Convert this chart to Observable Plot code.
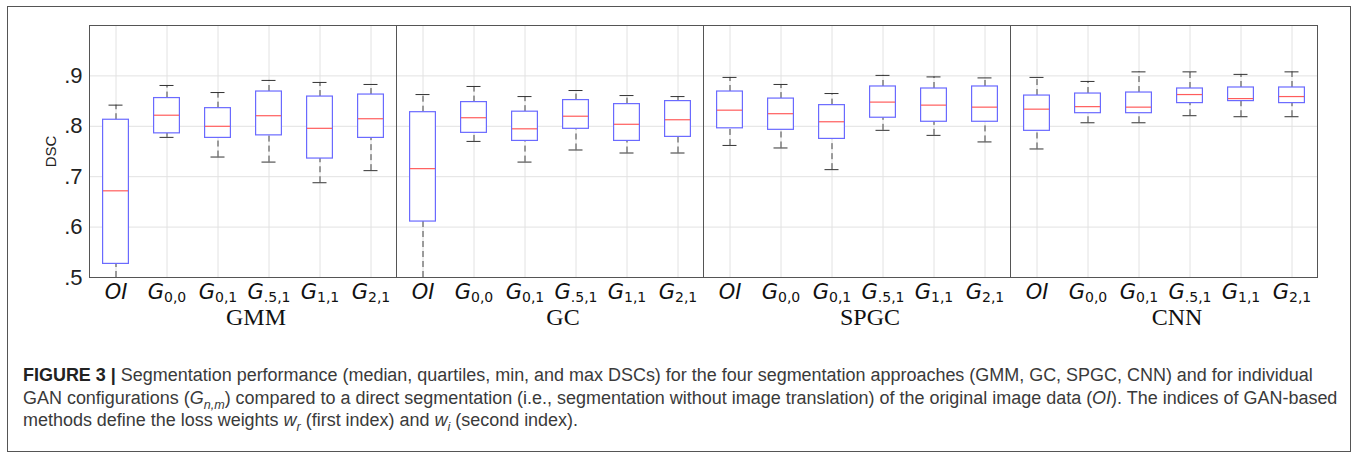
<!DOCTYPE html>
<html>
<head>
<meta charset="utf-8">
<script src="https://cdn.jsdelivr.net/npm/d3@7"></script>
<script src="https://cdn.jsdelivr.net/npm/@observablehq/plot@0.6"></script>
<style>
  html, body { margin: 0; padding: 0; background: #fff; }
  #page { position: relative; width: 1357px; height: 455px; overflow: hidden; }
  #border { position: absolute; left: 7px; top: 6px; width: 1344px; height: 446px; border: 1.5px solid #555; box-sizing: border-box; }
  #chart { position: absolute; left: 0; top: 0; }
  #caption { position: absolute; left: 23px; top: 364px; transform-origin: 0 0; font-family: "Liberation Sans Narrow", "Liberation Sans", Arial, sans-serif; font-size: 18px; color: #3a3a3a; }
  #caption div { white-space: nowrap; height: 22.5px; line-height: 22.5px; }
  #caption b { color: #222; }
  #caption sub { font-size: 0.7em; line-height: 0; }
</style>
</head>
<body>
<div id="page">
  <div id="border"></div>
  <div id="chart"></div>
  <div id="caption">
    <div><b>FIGURE 3 |</b> Segmentation performance (median, quartiles, min, and max DSCs) for the four segmentation approaches (GMM, GC, SPGC, CNN) and for individual</div>
    <div id="cap2">GAN configurations (<i>G</i><sub><i>n,m</i></sub>) compared to a direct segmentation (i.e., segmentation without image translation) of the original image data (<i>OI</i>). The indices of GAN-based</div>
    <div>methods define the loss weights <i>w</i><sub><i>r</i></sub> (first index) and <i>w</i><sub><i>i</i></sub> (second index).</div>
  </div>
</div>
<script>
// Segmentation approaches (facets) and configurations (categories)
const methods = ["GMM", "GC", "SPGC", "CNN"];
const configs = ["OI", "G0,0", "G0,1", "G.5,1", "G1,1", "G2,1"];
const yTicks = [0.5, 0.6, 0.7, 0.8, 0.9];

// DSC statistics, ordered method by method (GMM, GC, SPGC, CNN), configs in order above
const minDSC = [
  0.500, 0.778, 0.739, 0.729, 0.688, 0.712,   // GMM
  0.500, 0.770, 0.729, 0.753, 0.747, 0.747,   // GC
  0.762, 0.757, 0.714, 0.792, 0.782, 0.769,   // SPGC
  0.755, 0.807, 0.807, 0.821, 0.819, 0.819    // CNN
];
const q1DSC = [
  0.527, 0.786, 0.777, 0.782, 0.736, 0.777,
  0.611, 0.787, 0.771, 0.795, 0.771, 0.779,
  0.796, 0.793, 0.775, 0.817, 0.809, 0.809,
  0.791, 0.826, 0.826, 0.846, 0.850, 0.846
];
const medianDSC = [
  0.672, 0.822, 0.800, 0.821, 0.796, 0.815,
  0.716, 0.817, 0.795, 0.820, 0.804, 0.813,
  0.832, 0.825, 0.809, 0.848, 0.842, 0.838,
  0.834, 0.839, 0.838, 0.863, 0.855, 0.859
];
const q3DSC = [
  0.813, 0.856, 0.836, 0.869, 0.859, 0.863,
  0.828, 0.848, 0.829, 0.852, 0.844, 0.850,
  0.869, 0.855, 0.842, 0.879, 0.875, 0.879,
  0.861, 0.865, 0.867, 0.875, 0.877, 0.877
];
const maxDSC = [
  0.842, 0.881, 0.867, 0.891, 0.887, 0.883,
  0.863, 0.879, 0.859, 0.871, 0.861, 0.859,
  0.897, 0.883, 0.865, 0.901, 0.898, 0.896,
  0.897, 0.889, 0.908, 0.908, 0.903, 0.908
];

const rows = methods.flatMap((m, i) => configs.map((c, j) => {
  const k = i * configs.length + j;
  return {method: m, config: c, min: minDSC[k], q1: q1DSC[k], median: medianDSC[k], q3: q3DSC[k], max: maxDSC[k]};
}));

const boxColor = "#6a6aff";
const medColor = "#ff5c5c";
const whiskColor = "#444";

const chart = Plot.plot({
  width: 1357,
  height: 340,
  marginLeft: 88,
  marginRight: 40,
  marginTop: 25,
  marginBottom: 63,
  style: {background: "transparent"},
  fx: {domain: methods, padding: 0},
  x: {domain: configs, padding: 0},
  y: {domain: [0.5, 1.0]},
  marks: [
    Plot.gridX({stroke: "#e2e2e2", strokeOpacity: 1}),
    Plot.gridY({ticks: [0.6, 0.7, 0.8, 0.9], stroke: "#e2e2e2", strokeOpacity: 1}),
    // whiskers (dashed)
    Plot.ruleX(rows, {fx: "method", x: "config", y1: "q3", y2: "max", stroke: whiskColor, strokeDasharray: "6,4", strokeWidth: 1}),
    Plot.ruleX(rows, {fx: "method", x: "config", y1: "min", y2: "q1", stroke: whiskColor, strokeDasharray: "6,4", strokeWidth: 1}),
    // caps
    Plot.tickY(rows, {fx: "method", x: "config", y: "max", stroke: "#333", insetLeft: 18.5, insetRight: 18.5}),
    Plot.tickY(rows, {fx: "method", x: "config", y: "min", stroke: "#333", insetLeft: 18.5, insetRight: 18.5}),
    // boxes
    Plot.barY(rows, {fx: "method", x: "config", y1: "q1", y2: "q3", fill: "white", stroke: boxColor, strokeWidth: 1.2, insetLeft: 12.6, insetRight: 12.6}),
    // medians
    Plot.tickY(rows, {fx: "method", x: "config", y: "median", stroke: medColor, strokeWidth: 1.2, insetLeft: 13, insetRight: 13}),
    Plot.frame({stroke: "#555", strokeWidth: 1}),
    Plot.axisY({
      ticks: yTicks,
      tickFormat: d => d.toFixed(1).replace(/^0/, ""),
      tickSize: 0,
      tickPadding: 7,
      fontSize: 22,
      fontFamily: "Liberation Sans, Arial, sans-serif",
      label: "DSC",
      labelAnchor: "center",
      labelOffset: 44
    }),
    Plot.axisX({
      tickSize: 0,
      tickPadding: 7,
      fontSize: 21,
      fontFamily: "DejaVu Sans, sans-serif",
      tickFormat: d => d,
      label: null
    }),
    Plot.axisFx({
      anchor: "bottom",
      tickSize: 0,
      tickPadding: 30,
      dx: 13,
      fontSize: 24,
      fontFamily: "Liberation Serif, Times New Roman, serif",
      label: null
    })
  ]
});
document.getElementById("chart").appendChild(chart);

// y-axis label: plain "DSC" without arrow
d3.select(chart).selectAll('g[aria-label="y-axis label"] text')
  .text("DSC")
  .style("font-size", "15px").style("font-family", "Liberation Sans, Arial, sans-serif").attr("fill", "#222");
d3.select(chart).selectAll('g[aria-label="y-axis tick label"] text').attr("fill", "#222");
d3.select(chart).selectAll('g[aria-label="fx-axis tick label"] text').attr("fill", "#111");

// italic configuration labels with upright subscripts
d3.select(chart).selectAll('g[aria-label="x-axis tick label"] text').each(function() {
  const t = d3.select(this);
  const s = t.text();
  t.text(null).attr("fill", "#111");
  if (s.startsWith("G")) {
    t.append("tspan").attr("font-style", "italic").text("G");
    t.append("tspan").attr("font-size", 14).attr("dy", 3).text(s.slice(1));
  } else {
    t.append("tspan").attr("font-style", "italic").text(s);
  }
});

// fit caption width to the reference (line 2 spans ~1314px)
const cap = document.getElementById("caption");
const w2 = document.getElementById("cap2").scrollWidth;
const f = 1314 / w2;
cap.style.transform = `scaleX(${f})`;
</script>
</body>
</html>
